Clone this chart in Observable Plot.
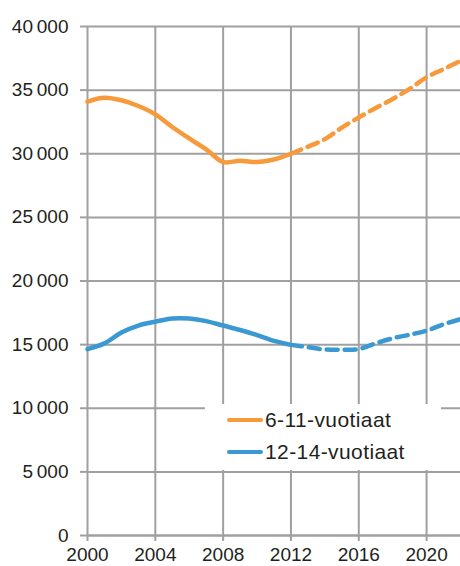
<!DOCTYPE html>
<html>
<head>
<meta charset="utf-8">
<script src="https://cdn.jsdelivr.net/npm/d3@7"></script>
<script src="https://cdn.jsdelivr.net/npm/@observablehq/plot@0.6"></script>
<style>
  html, body { margin: 0; padding: 0; background: #fff; }
  #wrap { position: relative; width: 460px; height: 566px; overflow: hidden; font-family: "Liberation Sans", Arial, sans-serif; }
  #legend { position: absolute; left: 205px; top: 404px; width: 236px; height: 66px; background: #fff; }
  .item { position: absolute; left: 22px; height: 24px; display: flex; align-items: center; }
  .sw { width: 36px; height: 4.5px; border-radius: 2px; margin-right: 2px; }
  .lbl { font-size: 21px; color: #231f20; letter-spacing: 0.4px; }
</style>
</head>
<body>
<div id="wrap"></div>
<script>
// ---- data ----
const years = [2000,2001,2002,2003,2004,2005,2006,2007,2008,2009,2010,2011,2012,2013,2014,2015,2016,2017,2018,2019,2020,2021,2022];
const age6_11 = [34100,34400,34200,33750,33100,32100,31200,30350,29350,29450,29350,29550,30000,30550,31150,32050,32850,33600,34300,35100,36000,36650,37300];
const age12_14 = [14650,15100,15950,16500,16800,17050,17050,16850,16500,16150,15750,15300,14980,14800,14620,14600,14650,15100,15500,15780,16100,16600,17000];
const seriesNames = ["6-11-vuotiaat", "12-14-vuotiaat"];
const seriesColors = ["#F79A3B", "#3A99D2"];
const projectionStart = 2012;
const yTicks = [0,5000,10000,15000,20000,25000,30000,35000,40000];
const xTicks = [2000,2004,2008,2012,2016,2020];

const rows = [];
[age6_11, age12_14].forEach((vals, si) => {
  years.forEach((yr, i) => rows.push({series: seriesNames[si], year: yr, value: vals[i]}));
});
const actual = rows.filter(d => d.year <= projectionStart);
const projected = rows.filter(d => d.year >= projectionStart);

const fmt = v => v === 0 ? "0" : d3.format(",")(v).replace(/,/g, "\u2009");
const grid = "#a0a0a0";

const chart = Plot.plot({
  width: 460,
  height: 566,
  marginLeft: 87,
  marginRight: 0,
  marginTop: 26,
  marginBottom: 31,
  style: {fontFamily: "Liberation Sans, Arial, sans-serif", fontSize: "19px", color: "#231f20", background: "#fff"},
  x: {domain: [2000, 2022]},
  y: {domain: [0, 40000]},
  color: {domain: seriesNames, range: seriesColors},
  marks: [
    Plot.gridY(yTicks, {stroke: grid, strokeOpacity: 1, strokeWidth: 2}),
    Plot.gridX(xTicks, {stroke: grid, strokeOpacity: 1, strokeWidth: 2}),
    Plot.axisY(yTicks, {tickSize: 7, tickPadding: 12, stroke: grid, strokeWidth: 2, tickFormat: fmt, label: null, fill: "#231f20"}),
    Plot.axisX(xTicks, {tickSize: 6, tickPadding: 6, stroke: grid, strokeWidth: 2, tickFormat: d => String(d), label: null, fill: "#231f20"}),
    Plot.ruleY([0], {stroke: grid, strokeWidth: 2}),
    Plot.line(actual, {x: "year", y: "value", z: "series", stroke: "series", strokeWidth: 4.5, curve: "catmull-rom"}),
    Plot.line(projected, {x: "year", y: "value", z: "series", stroke: "series", strokeWidth: 4.5, curve: "catmull-rom", strokeDasharray: "11,7"})
  ]
});

const wrap = document.getElementById("wrap");
wrap.appendChild(chart);

const legend = document.createElement("div");
legend.id = "legend";
seriesNames.forEach((name, i) => {
  const item = document.createElement("div");
  item.className = "item";
  item.style.top = (4 + i * 32) + "px";
  item.innerHTML = `<div class="sw" style="background:${seriesColors[i]}"></div><span class="lbl">${name}</span>`;
  legend.appendChild(item);
});
wrap.appendChild(legend);
</script>
</body>
</html>
